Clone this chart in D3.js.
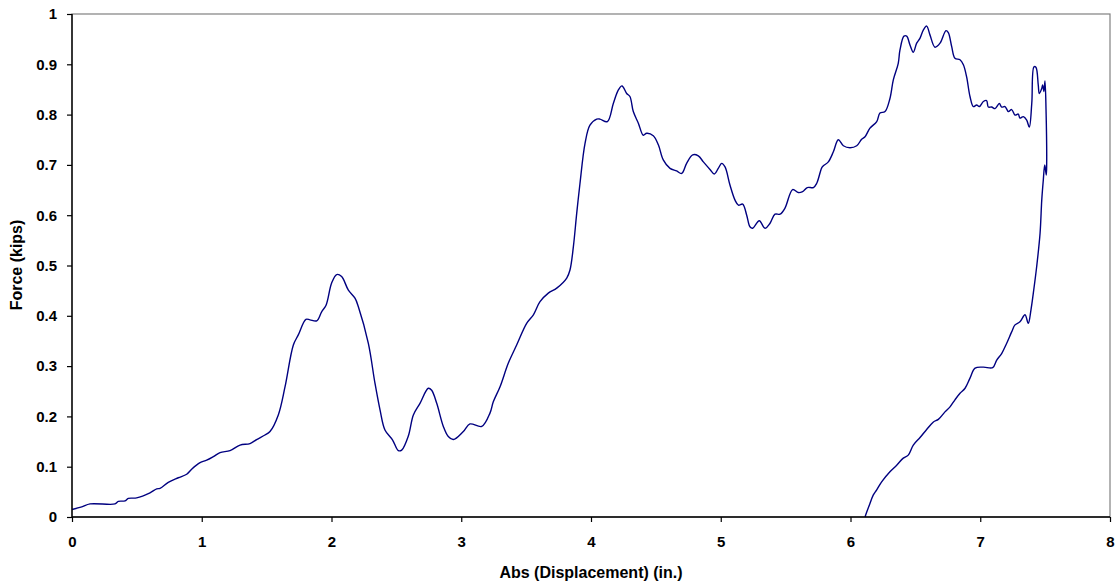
<!DOCTYPE html>
<html>
<head>
  <title>Force vs Displacement</title>
  <script src="https://d3js.org/d3.v7.min.js"></script>
  <style>
    body { margin: 0; background: #fff; }
    text { font-family: Arial, "Liberation Sans", sans-serif; }
  </style>
</head>
<body>
  <svg id="chart" width="1120" height="586"></svg>

  <script>
    // Displacement (in.), in drawing order
    var displacement = [
      0.000, 0.075, 0.139, 0.331, 0.357, 0.408, 0.434, 0.498, 0.601, 0.653,
      0.678, 0.742, 0.819, 0.884, 0.922, 0.987, 1.038, 1.089, 1.141, 1.218,
      1.295, 1.372, 1.423, 1.487, 1.526, 1.590, 1.642, 1.706, 1.744, 1.803,
      1.834, 1.886, 1.924, 1.958, 2.001, 2.040, 2.078, 2.130, 2.181, 2.207,
      2.284, 2.335, 2.374, 2.412, 2.471, 2.515, 2.541, 2.592, 2.631, 2.682,
      2.746, 2.772, 2.811, 2.862, 2.900, 2.939, 3.016, 3.067, 3.158, 3.222,
      3.247, 3.299, 3.363, 3.427, 3.504, 3.556, 3.607, 3.671, 3.736, 3.813,
      3.838, 3.864, 3.890, 3.915, 3.954, 3.992, 4.044, 4.069, 4.126, 4.172,
      4.211, 4.239, 4.275, 4.300, 4.326, 4.365, 4.403, 4.429, 4.480, 4.519,
      4.557, 4.609, 4.660, 4.699, 4.737, 4.784, 4.827, 4.866, 4.917, 4.950,
      4.981, 5.007, 5.033, 5.071, 5.110, 5.136, 5.169, 5.200, 5.225, 5.246,
      5.297, 5.341, 5.380, 5.418, 5.457, 5.495, 5.554, 5.598, 5.631, 5.667,
      5.714, 5.739, 5.778, 5.790, 5.829, 5.868, 5.906, 5.945, 5.996, 6.048,
      6.086, 6.112, 6.150, 6.202, 6.227, 6.266, 6.304, 6.330, 6.368, 6.381,
      6.412, 6.433, 6.459, 6.484, 6.510, 6.536, 6.561, 6.587, 6.613, 6.651,
      6.690, 6.736, 6.754, 6.780, 6.805, 6.844, 6.870, 6.895, 6.921, 6.947,
      6.972, 6.993, 7.024, 7.049, 7.062, 7.088, 7.114, 7.147, 7.165, 7.191,
      7.217, 7.242, 7.268, 7.293, 7.306, 7.332, 7.358, 7.378, 7.397, 7.414,
      7.429, 7.447, 7.455, 7.474, 7.481, 7.491, 7.499, 7.507, 7.512, 7.509,
      7.497, 7.486, 7.474, 7.461, 7.435, 7.409, 7.391, 7.370, 7.345, 7.306,
      7.268, 7.242, 7.203, 7.165, 7.127, 7.096, 7.024, 6.960, 6.921, 6.883,
      6.844, 6.805, 6.767, 6.728, 6.677, 6.639, 6.587, 6.536, 6.484, 6.445,
      6.407, 6.356, 6.304, 6.240, 6.202, 6.176, 6.150, 6.117, 6.112
    ];

    // Force (kips), matching the displacement array
    var force = [
      0.015, 0.020, 0.026, 0.026, 0.031, 0.032, 0.037, 0.038, 0.048, 0.056,
      0.057, 0.069, 0.078, 0.085, 0.095, 0.108, 0.113, 0.120, 0.128, 0.132,
      0.143, 0.146, 0.154, 0.163, 0.170, 0.203, 0.259, 0.342, 0.362, 0.393,
      0.392, 0.390, 0.408, 0.421, 0.465, 0.482, 0.478, 0.451, 0.435, 0.418,
      0.345, 0.266, 0.213, 0.173, 0.153, 0.132, 0.133, 0.161, 0.203, 0.226,
      0.256, 0.252, 0.226, 0.180, 0.160, 0.154, 0.170, 0.185, 0.180, 0.207,
      0.229, 0.259, 0.306, 0.342, 0.385, 0.402, 0.428, 0.445, 0.455, 0.475,
      0.491, 0.537, 0.604, 0.663, 0.743, 0.779, 0.791, 0.791, 0.786, 0.822,
      0.849, 0.857, 0.842, 0.836, 0.806, 0.783, 0.759, 0.763, 0.758, 0.740,
      0.710, 0.693, 0.688, 0.683, 0.703, 0.720, 0.718, 0.706, 0.691, 0.682,
      0.693, 0.703, 0.696, 0.660, 0.630, 0.620, 0.622, 0.600, 0.577, 0.574,
      0.589, 0.574, 0.584, 0.602, 0.602, 0.614, 0.651, 0.645, 0.647, 0.655,
      0.655, 0.663, 0.694, 0.698, 0.706, 0.726, 0.750, 0.738, 0.734, 0.738,
      0.751, 0.756, 0.773, 0.786, 0.803, 0.806, 0.832, 0.869, 0.902, 0.928,
      0.956, 0.956, 0.938, 0.924, 0.942, 0.952, 0.968, 0.976, 0.958, 0.934,
      0.942, 0.967, 0.963, 0.935, 0.912, 0.909, 0.899, 0.875, 0.836, 0.816,
      0.819, 0.816, 0.826, 0.828, 0.815, 0.815, 0.812, 0.822, 0.815, 0.816,
      0.806, 0.810, 0.799, 0.801, 0.793, 0.796, 0.789, 0.775, 0.822, 0.895,
      0.894, 0.859, 0.842, 0.852, 0.859, 0.846, 0.867, 0.809, 0.703, 0.680,
      0.700, 0.670, 0.630, 0.564, 0.498, 0.445, 0.412, 0.385, 0.402, 0.388,
      0.382, 0.368, 0.345, 0.325, 0.312, 0.297, 0.298, 0.296, 0.276, 0.256,
      0.246, 0.233, 0.219, 0.209, 0.194, 0.189, 0.174, 0.158, 0.143, 0.123,
      0.117, 0.103, 0.090, 0.070, 0.054, 0.044, 0.027, 0.004, 0.000
    ];

    // Tick values
    var xTicks = [0, 1, 2, 3, 4, 5, 6, 7, 8];
    var yTicks = [0, 0.1, 0.2, 0.3, 0.4, 0.5, 0.6, 0.7, 0.8, 0.9, 1];

    var points = displacement.map(function(d, i) { return [d, force[i]]; });

    // Plot area
    var plotLeft = 72, plotRight = 1110, plotTop = 14, plotBottom = 517;

    var svg = d3.select("#chart");

    var xScale = d3.scaleLinear().domain([0, 8]).range([plotLeft, plotRight]);
    var yScale = d3.scaleLinear().domain([0, 1]).range([plotBottom, plotTop]);

    // Plot area border (gray top and right)
    svg.append("rect")
      .attr("x", plotLeft)
      .attr("y", plotTop)
      .attr("width", plotRight - plotLeft)
      .attr("height", plotBottom - plotTop)
      .attr("fill", "none")
      .attr("stroke", "#808080")
      .attr("stroke-width", 1.2);

    // The curve
    var line = d3.line()
      .x(function(d) { return xScale(d[0]); })
      .y(function(d) { return yScale(d[1]); })
      .curve(d3.curveCatmullRom.alpha(0.5));

    svg.append("path")
      .datum(points)
      .attr("d", line)
      .attr("fill", "none")
      .attr("stroke", "#000080")
      .attr("stroke-width", 1.4)
      .attr("stroke-linejoin", "round");

    // Axes
    var xAxis = d3.axisBottom(xScale)
      .tickValues(xTicks)
      .tickSize(5)
      .tickPadding(14)
      .tickFormat(d3.format("d"));

    var yAxis = d3.axisLeft(yScale)
      .tickValues(yTicks)
      .tickSize(5)
      .tickPadding(10)
      .tickFormat(function(d) { return d === 0 || d === 1 ? String(d) : d.toFixed(1); });

    var gx = svg.append("g")
      .attr("transform", "translate(0," + plotBottom + ")")
      .call(xAxis);

    var gy = svg.append("g")
      .attr("transform", "translate(" + plotLeft + ",0)")
      .call(yAxis);

    [gx, gy].forEach(function(g) {
      g.attr("font-size", 15).attr("font-family", "Arial, 'Liberation Sans', sans-serif");
      g.select(".domain").attr("stroke", "#000").attr("stroke-width", 1.4);
      g.selectAll(".tick line").attr("stroke", "#000").attr("stroke-width", 1.2);
      g.selectAll(".tick text")
        .attr("fill", "#000")
        .attr("font-weight", "bold");
    });
    gx.select(".domain").attr("d", "M" + plotLeft + ",0H" + plotRight);
    gy.select(".domain").attr("d", "M0," + plotBottom + "V" + plotTop);

    // Axis titles
    svg.append("text")
      .attr("x", 591)
      .attr("y", 578)
      .attr("text-anchor", "middle")
      .attr("font-size", "16px")
      .attr("font-weight", "bold")
      .text("Abs (Displacement) (in.)");

    svg.append("text")
      .attr("transform", "rotate(-90)")
      .attr("x", -265)
      .attr("y", 22)
      .attr("text-anchor", "middle")
      .attr("font-size", "16px")
      .attr("font-weight", "bold")
      .text("Force (kips)");
  </script>
</body>
</html>
